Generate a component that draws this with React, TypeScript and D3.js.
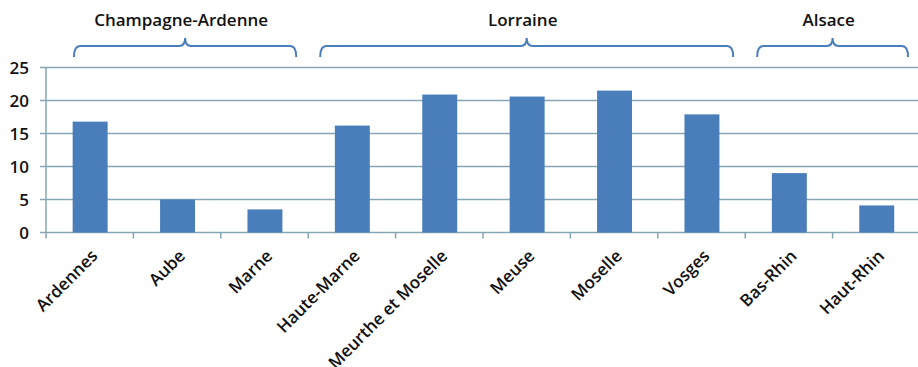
import React from "react";
import * as d3 from "d3";

const categories = ["Ardennes", "Aube", "Marne", "Haute-Marne", "Meurthe et Moselle", "Meuse", "Moselle", "Vosges", "Bas-Rhin", "Haut-Rhin"];
const values = [16.8, 5.0, 3.5, 16.2, 20.9, 20.6, 21.5, 17.9, 9.0, 4.1];
const yTicks = [0, 5, 10, 15, 20, 25];
const groupNames = ["Champagne-Ardenne", "Lorraine", "Alsace"];
const groupFirst = ["Ardennes", "Haute-Marne", "Bas-Rhin"];
const groupLast = ["Marne", "Vosges", "Haut-Rhin"];

const W = 918;
const H = 367;
const left = 46;
const right = 920;
const top = 67.5;
const bottom = 232.5;
const font = "'Open Sans', 'Liberation Sans', sans-serif";
const gridColor = "#86a6b5";
const barColor = "#4a7ebb";
const textColor = "#111";

export default function App() {
  const x = d3.scaleBand<string>().domain(categories).range([left, right]).padding(0);
  const y = d3.scaleLinear().domain([0, 25]).range([bottom, top]);
  const bw = x.bandwidth();

  const brackets = groupNames.map((name, i) => {
    const x0 = Math.max((x(groupFirst[i]) as number) + 12, left + 28);
    const x1 = (x(groupLast[i]) as number) + bw - 12;
    const xm = (x0 + x1) / 2;
    const yb = 46, ye = 57, yt = 38;
    const r = 6;
    const path = `M${x0},${ye} Q${x0},${yb} ${x0 + r},${yb} L${xm - r},${yb} Q${xm},${yb} ${xm},${yt} Q${xm},${yb} ${xm + r},${yb} L${x1 - r},${yb} Q${x1},${yb} ${x1},${ye}`;
    return { name, xm, path };
  });

  return (
    <div style={{ position: "fixed", left: 0, top: 0, width: W, height: H, background: "#fff" }}>
      <svg width={W} height={H} style={{ display: "block" }}>
        <rect width={W} height={H} fill="#fff" />
        {yTicks.map((t) => (
          <g key={t}>
            <line x1={left - 6} x2={right} y1={y(t)} y2={y(t)} stroke={gridColor} strokeWidth={1.5} />
            <text x={29} y={y(t)} dy="0.36em" textAnchor="end" fontFamily={font} fontSize={17} fontWeight={600} fill={textColor}>
              {t}
            </text>
          </g>
        ))}
        <line x1={left} x2={left} y1={top} y2={bottom} stroke={gridColor} strokeWidth={1.5} />
        {categories.map((c) => (
          <line key={"t" + c} x1={x(c) as number} x2={x(c) as number} y1={bottom} y2={bottom + 6} stroke={gridColor} strokeWidth={1.5} />
        ))}
        <line x1={right} x2={right} y1={bottom} y2={bottom + 6} stroke={gridColor} strokeWidth={1.5} />
        {categories.map((c, i) => (
          <rect key={c} x={(x(c) as number) + bw * 0.305} width={bw * 0.4} y={y(values[i])} height={y(0) - y(values[i])} fill={barColor} />
        ))}
        {categories.map((c) => {
          const cx = (x(c) as number) + bw / 2;
          return (
            <text key={"l" + c} transform={`translate(${cx},${248}) rotate(-45)`} dy="0.75em" textAnchor="end" fontFamily={font} fontSize={17} fontWeight={600} fill={textColor}>
              {c}
            </text>
          );
        })}
        {brackets.map((b) => (
          <g key={b.name}>
            <path d={b.path} fill="none" stroke={barColor} strokeWidth={2} />
            <text x={b.xm - 4} y={26} textAnchor="middle" fontFamily={font} fontSize={17} fontWeight={600} fill={textColor}>
              {b.name}
            </text>
          </g>
        ))}
      </svg>
    </div>
  );
}
